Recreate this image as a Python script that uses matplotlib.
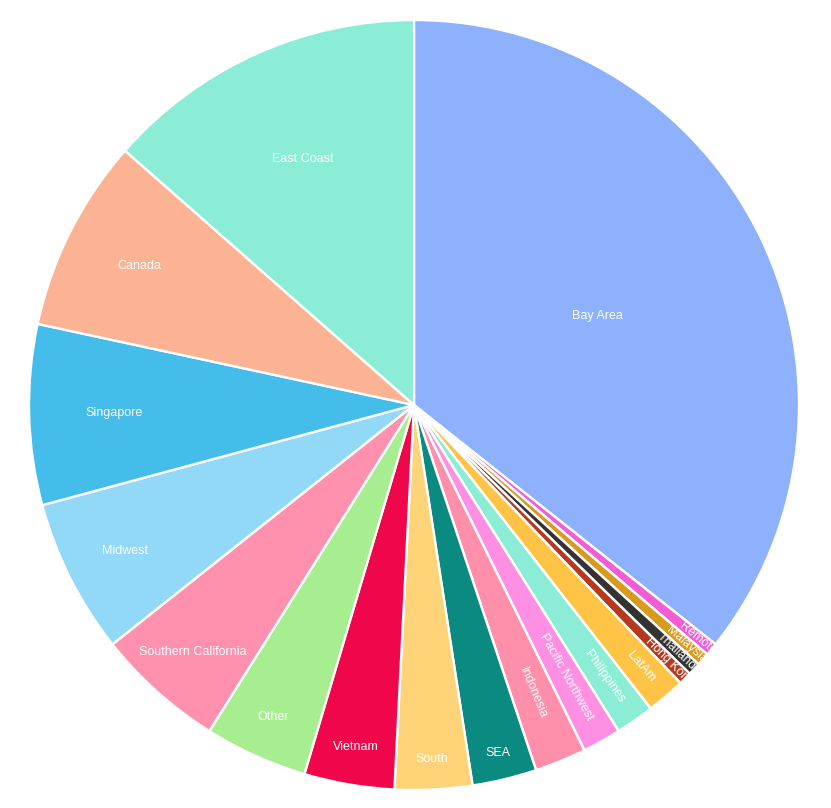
import numpy as np
import matplotlib
matplotlib.use('Agg')
import matplotlib.pyplot as plt
from matplotlib.patches import Circle

regions = ['Bay Area', 'Remote', 'Malaysia', 'Thailand', 'Hong Kong', 'LatAm',
           'Philippines', 'Pacific Northwest', 'Indonesia', 'SEA', 'South',
           'Vietnam', 'Other', 'Southern California', 'Midwest', 'Singapore',
           'Canada', 'East Coast']
counts = [66, 1, 1, 1, 1, 3, 3, 3, 4, 5, 6, 7, 8, 10, 12, 14, 15, 25]

colors = ['#8DB1FD', '#F25CD4', '#D89B1E', '#333333', '#B5391E', '#FFC446',
          '#8BEDD6', '#FF8FE3', '#FF8FAB', '#0A8A80', '#FFD479', '#F0064A',
          '#A6EE8F', '#FF91AE', '#92D9F8', '#45BDEA', '#FBB393', '#8CEDD7']

# label distance from centre (fraction of radius), and whether it runs along the radius
label_r = [0.53, 0.955, 0.945, 0.935, 0.94, 0.90, 0.86, 0.81, 0.81, 0.93, 0.92,
           0.90, 0.89, 0.86, 0.84, 0.78, 0.80, 0.70]
radial = [False, True, True, True, True, True, True, True, True, False, False,
          False, False, False, False, False, False, False]

W, H = 831, 808
cx, cy, R = 414, 405, 385
fig = plt.figure(figsize=(W / 100, H / 100), dpi=100)
ax = fig.add_axes([0, 0, 1, 1])
ax.axis('off')

wedges, _ = ax.pie(counts, colors=colors, startangle=90, counterclock=False,
                   radius=1, wedgeprops={'edgecolor': 'white', 'linewidth': 1.7})
ax.set_xlim(-cx / R, (W - cx) / R)
ax.set_ylim(-(H - cy) / R, cy / R)

clip = Circle((0, 0), 1, transform=ax.transData, facecolor='none', edgecolor='none')
ax.add_patch(clip)

for w, name, lr, rad in zip(wedges, regions, label_r, radial):
    mid = np.deg2rad((w.theta1 + w.theta2) / 2)
    x, y = lr * np.cos(mid), lr * np.sin(mid)
    rot = np.rad2deg(mid) if rad else 0
    t = ax.text(x, y, name, ha='center', va='center', rotation=rot,
                rotation_mode='anchor', color='white', fontsize=9,
                family=['Liberation Sans', 'DejaVu Sans'])
    t.set_clip_path(clip)

fig.savefig('out.png', dpi=100)
